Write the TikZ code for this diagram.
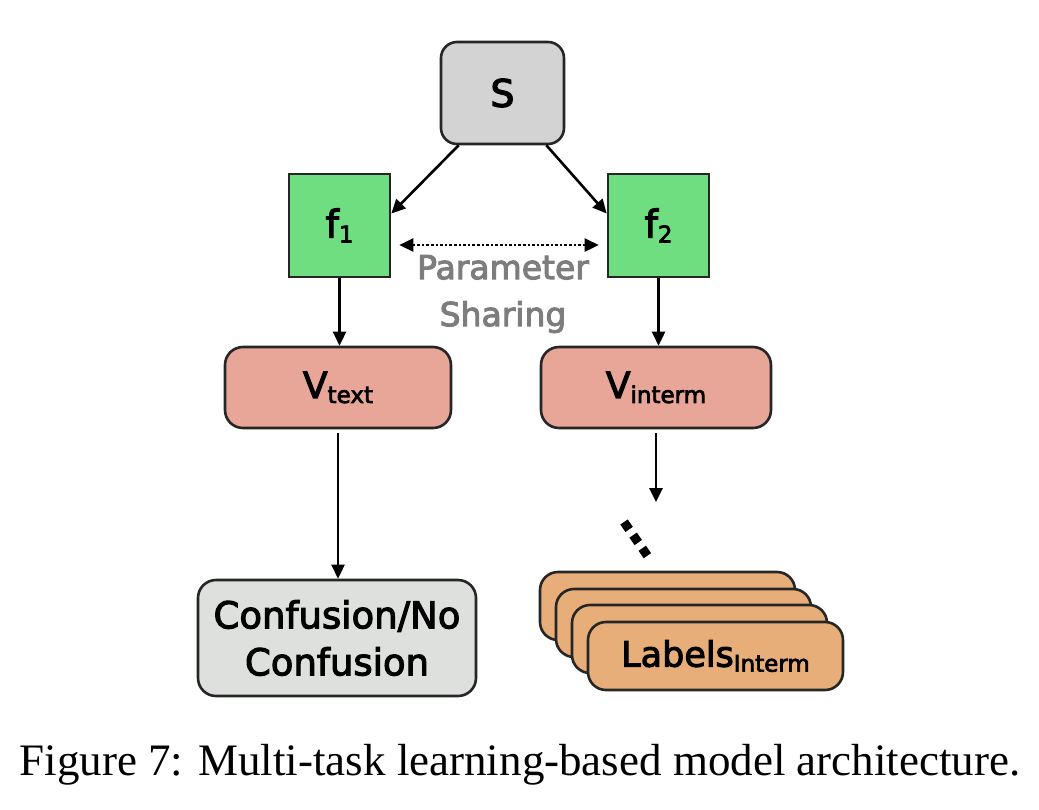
\documentclass[tikz,border=0pt]{standalone}
\usepackage{fontspec}
\setmainfont{DejaVu Sans}[FakeBold=3]
\newfontfamily\capfont{Liberation Serif}
\usetikzlibrary{arrows.meta,calc}
\definecolor{sgray}{RGB}{211,211,211}
\definecolor{fgreen}{RGB}{110,222,128}
\definecolor{vsalmon}{RGB}{232,166,152}
\definecolor{cgray}{RGB}{221,224,221}
\definecolor{lorange}{RGB}{232,174,122}
\definecolor{ptgray}{RGB}{125,125,125}
\tikzset{
  box/.style={draw=black!85, line width=2.6pt, anchor=center, inner sep=0pt},
  arr/.style={line width=2.6pt, -{Triangle[length=14pt,width=13pt]}},
  darr/.style={line width=2.6pt, dotted, {Triangle[length=14pt,width=13pt]}-{Triangle[length=14pt,width=13pt]}},
  big/.style={font=\fontsize{38}{40}\selectfont},
}
\newcommand{\sbt}[1]{\raisebox{-5pt}{\fontsize{23}{24}\selectfont #1}}
\begin{document}
\begin{tikzpicture}[x=1pt,y=-1pt]
\useasboundingbox[fill=white] (0,0) rectangle (1039,809);
% nodes
\node[box, fill=sgray, rounded corners=16pt, minimum width=123pt, minimum height=102pt, big] (S) at (502.5,93) {S};
\node[box, fill=fgreen, minimum width=101pt, minimum height=103pt, big] (f1) at (339.5,225.5) {f\sbt{1}};
\node[box, fill=fgreen, minimum width=101pt, minimum height=103pt, big] (f2) at (658.5,225.5) {f\sbt{2}};
\node[align=center, text=ptgray, font=\fontsize{33}{47}\selectfont] (ps) at (503,294) {Parameter\\Sharing};
\node[box, fill=vsalmon, rounded corners=18pt, minimum width=226pt, minimum height=81pt, font=\fontsize{36}{40}\selectfont] (Vt) at (338,387.5) {V\sbt{text}};
\node[box, fill=vsalmon, rounded corners=18pt, minimum width=230pt, minimum height=81pt, font=\fontsize{36}{40}\selectfont] (Vi) at (656,387.5) {V\sbt{interm}};
\node[box, fill=cgray, rounded corners=18pt, minimum width=278pt, minimum height=116pt, align=center, font=\fontsize{37}{47}\selectfont] (C) at (337,638) {Confusion/No\\Confusion};
\node[box, fill=lorange, rounded corners=18pt, minimum width=255pt, minimum height=68pt] (L1) at (667.5,606) {};
\node[box, fill=lorange, rounded corners=18pt, minimum width=255pt, minimum height=68pt] (L2) at (683.5,623) {};
\node[box, fill=lorange, rounded corners=18pt, minimum width=255pt, minimum height=68pt] (L3) at (699.5,639) {};
\node[box, fill=lorange, rounded corners=18pt, minimum width=255pt, minimum height=68pt, font=\fontsize{35}{40}\selectfont] (L4) at (715.5,656) {Labels\sbt{Interm}};
\coordinate (vend) at (657,502);
\coordinate (d1) at (624,522);
\coordinate (d2) at (649,558);
% connectors
\draw[arr] (S.230.6) -- (f1.13);
\draw[arr] (S.-50.6) -- (f2.167.6);
\draw[darr] ([xshift=8pt,yshift=-19.5pt]f1.east) -- ([xshift=-8pt,yshift=-19.5pt]f2.west);
\draw[arr] (f1.south) -- (f1.south |- Vt.north);
\draw[arr] (f2.south) -- (f2.south |- Vi.north);
\draw[arr] ([yshift=-4pt]Vt.south) -- (Vt.south |- C.north);
\draw[arr] ([yshift=-4pt]Vi.south) -- (Vi.south |- vend);
\draw[line width=9pt, dash pattern=on 9pt off 7pt] (d1) -- (d2);
% caption
\node[font=\capfont\fontsize{45}{50}\selectfont] (cap) at (520,765) {Figure 7: Multi-task learning-based model architecture.};
\end{tikzpicture}
\end{document}
